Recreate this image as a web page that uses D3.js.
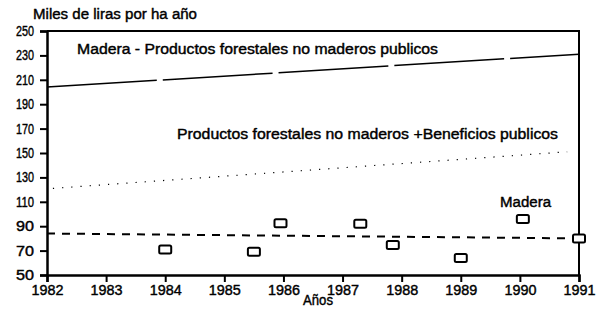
<!DOCTYPE html>
<html>
<head>
<meta charset="utf-8">
<script src="https://cdn.jsdelivr.net/npm/d3@7"></script>
<style>
  body { margin: 0; background: #fff; }
  text { font-family: "Liberation Sans", Arial, sans-serif; fill: #000; }
</style>
</head>
<body>
<div id="chart"></div>
<script>
// data
var years = [1982, 1983, 1984, 1985, 1986, 1987, 1988, 1989, 1990, 1991];
var yTicks = [50, 70, 90, 110, 130, 150, 170, 190, 210, 230, 250];

// trend lines: [year, value]
var lineMaderaPFNM = [[1982, 204], [1991, 231]];
var linePFNMBenef = [[1982.1, 121], [1990.8, 151]];
var lineMaderaTrend = [[1982, 84], [1991, 80]];

// madera points
var maderaYears = [1984, 1985.5, 1985.95, 1987.3, 1987.85, 1989, 1990.05, 1991];
var maderaValues = [71, 69, 92.5, 92, 74.5, 64, 96, 80];

var width = 598, height = 313;
var margin = {top: 31, right: 19, bottom: 38, left: 47};

var svg = d3.select("#chart").append("svg")
  .attr("width", width)
  .attr("height", height);

var x = d3.scaleLinear()
  .domain([1982, 1991])
  .range([margin.left, width - margin.right]);
var y = d3.scaleLinear()
  .domain([50, 250])
  .range([height - margin.bottom, margin.top]);

// frame (top and right)
svg.append("path")
  .attr("d", "M" + x(1982) + "," + y(250) + "H" + x(1991) + "V" + y(50))
  .attr("fill", "none")
  .attr("stroke", "#000")
  .attr("stroke-width", 2);

// axes
var xAxis = svg.append("g")
  .attr("transform", "translate(0," + y(50) + ")")
  .call(d3.axisBottom(x).tickValues(years).tickFormat(d3.format("d")).tickSize(7));
var yAxis = svg.append("g")
  .attr("transform", "translate(" + x(1982) + ",0)")
  .call(d3.axisLeft(y).tickValues(yTicks).tickSize(7));

[xAxis, yAxis].forEach(function(a) {
  a.select(".domain").attr("stroke-width", 2.5);
  a.selectAll(".tick line").attr("stroke-width", 2);
  a.selectAll("text")
    .style("font-family", "'Liberation Sans', Arial, sans-serif")
    .style("font-size", "14px")
    .attr("fill", "#000")
    .attr("stroke", "#000")
    .attr("stroke-width", 0.4);
});
xAxis.selectAll("text").attr("y", 10).attr("textLength", 32).attr("lengthAdjust", "spacingAndGlyphs");
yAxis.selectAll("text").attr("x", -13).attr("textLength", 18).attr("lengthAdjust", "spacingAndGlyphs");

var line = d3.line()
  .x(function(d) { return x(d[0]); })
  .y(function(d) { return y(d[1]); });

svg.append("path")
  .datum(lineMaderaPFNM)
  .attr("d", line)
  .attr("fill", "none")
  .attr("stroke", "#000")
  .attr("stroke-width", 1.5)
  .attr("stroke-dasharray", "110,6");

svg.append("path")
  .datum(linePFNMBenef)
  .attr("d", line)
  .attr("fill", "none")
  .attr("stroke", "#000")
  .attr("stroke-width", 1.2)
  .attr("stroke-dasharray", "1.2,8");

svg.append("path")
  .datum(lineMaderaTrend)
  .attr("d", line)
  .attr("fill", "none")
  .attr("stroke", "#000")
  .attr("stroke-width", 2)
  .attr("stroke-dasharray", "8,7");

// madera squares
svg.selectAll("rect.pt")
  .data(maderaYears)
  .enter().append("rect")
  .attr("class", "pt")
  .attr("x", function(d) { return x(d) - 6; })
  .attr("y", function(d, i) { return y(maderaValues[i]) - 4; })
  .attr("width", 12)
  .attr("height", 8)
  .attr("rx", 1.5)
  .attr("fill", "#fff")
  .attr("stroke", "#000")
  .attr("stroke-width", 2);

// labels
function label(t, px, py, w, anchor) {
  svg.append("text")
    .attr("x", px)
    .attr("y", py)
    .attr("text-anchor", anchor || "start")
    .attr("textLength", w)
    .attr("lengthAdjust", "spacingAndGlyphs")
    .attr("stroke", "#000")
    .attr("stroke-width", 0.4)
    .style("font-size", "14px")
    .text(t);
}
label("Miles de liras por ha año", 33, 19, 164);
label("Madera - Productos forestales no maderos publicos", 77, 54, 361);
label("Productos forestales no maderos +Beneficios publicos", 177, 139, 381);
label("Madera", 500, 207, 51);
label("Años", 318, 305, 30, "middle");
</script>
</body>
</html>
